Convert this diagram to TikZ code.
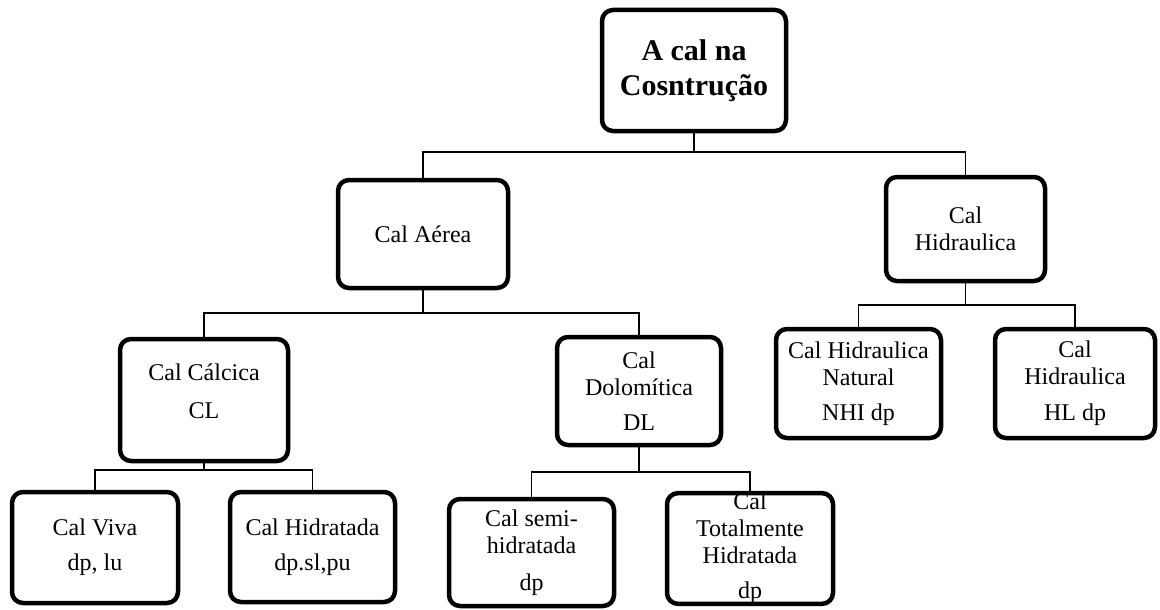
\documentclass[tikz,border=0pt]{standalone}
\usepackage{fontspec}
\setmainfont{Liberation Serif}
\begin{document}
\begin{tikzpicture}[x=1pt,y=-1pt,
  box/.style={draw=black, line width=4.5pt, rounded corners=11pt, align=center, inner sep=0pt,
    font=\fontsize{24}{27}\selectfont},
  conn/.style={draw=black, line width=1.6pt}]
\useasboundingbox (0,0) rectangle (1160,610);
\node[box, minimum width=184pt, minimum height=121pt, font=\fontsize{30}{35}\selectfont\bfseries] (root) at (694,70.5) {A cal na\\Cosntrução};
\node[box, minimum width=170pt, minimum height=108pt] (aer) at (423,234) {Cal Aérea};
\node[box, minimum width=159pt, minimum height=104pt] (hid) at (965.5,229) {Cal\\Hidraulica};
\node[box, minimum width=168pt, minimum height=122pt] (calc) at (204,400) {Cal Cálcica\\[11pt]CL\\[-10pt]\mbox{}};
\node[box, minimum width=164pt, minimum height=108pt] (dolo) at (639,391) {Cal\\Dolomítica\\[8pt]DL};
\node[box, minimum width=166pt, minimum height=111pt] (viva) at (95,547.5) {Cal Viva\\[8pt]dp, lu};
\node[box, minimum width=165pt, minimum height=110pt] (hidr) at (312.5,547) {Cal Hidratada\\[8pt]dp.sl,pu};
\node[box, minimum width=165pt, minimum height=107pt] (semi) at (531.5,552.5) {Cal semi-\\hidratada\\[10pt]dp};
\node[box, minimum width=166pt, minimum height=109pt] (total) at (750,548.5) {Cal\\Totalmente\\Hidratada\\[8pt]dp};
\node[box, minimum width=165pt, minimum height=109pt] (nat) at (858.5,383.5) {Cal Hidraulica\\Natural\\[8pt]NHI dp};
\node[box, minimum width=160pt, minimum height=109pt] (hl) at (1075,383.5) {Cal\\Hidraulica\\[9pt]HL dp};
\coordinate (b1) at (694,152);
\coordinate (b2) at (423,313);
\coordinate (b3) at (204,470);
\coordinate (b4) at (639,472);
\coordinate (b5) at (965.5,305);
\draw[conn] (root.south) -- (b1) -| (aer.north);
\draw[conn] (b1) -| (hid.north);
\draw[conn] (aer.south) -- (b2) -| (calc.north);
\draw[conn] (b2) -| (dolo.north);
\draw[conn] (calc.south) -- (b3) -| (viva.north);
\draw[conn] (b3) -| (hidr.north);
\draw[conn] (dolo.south) -- (b4) -| (semi.north);
\draw[conn] (b4) -| (total.north);
\draw[conn] (hid.south) -- (b5) -| (nat.north);
\draw[conn] (b5) -| (hl.north);
\end{tikzpicture}
\end{document}
